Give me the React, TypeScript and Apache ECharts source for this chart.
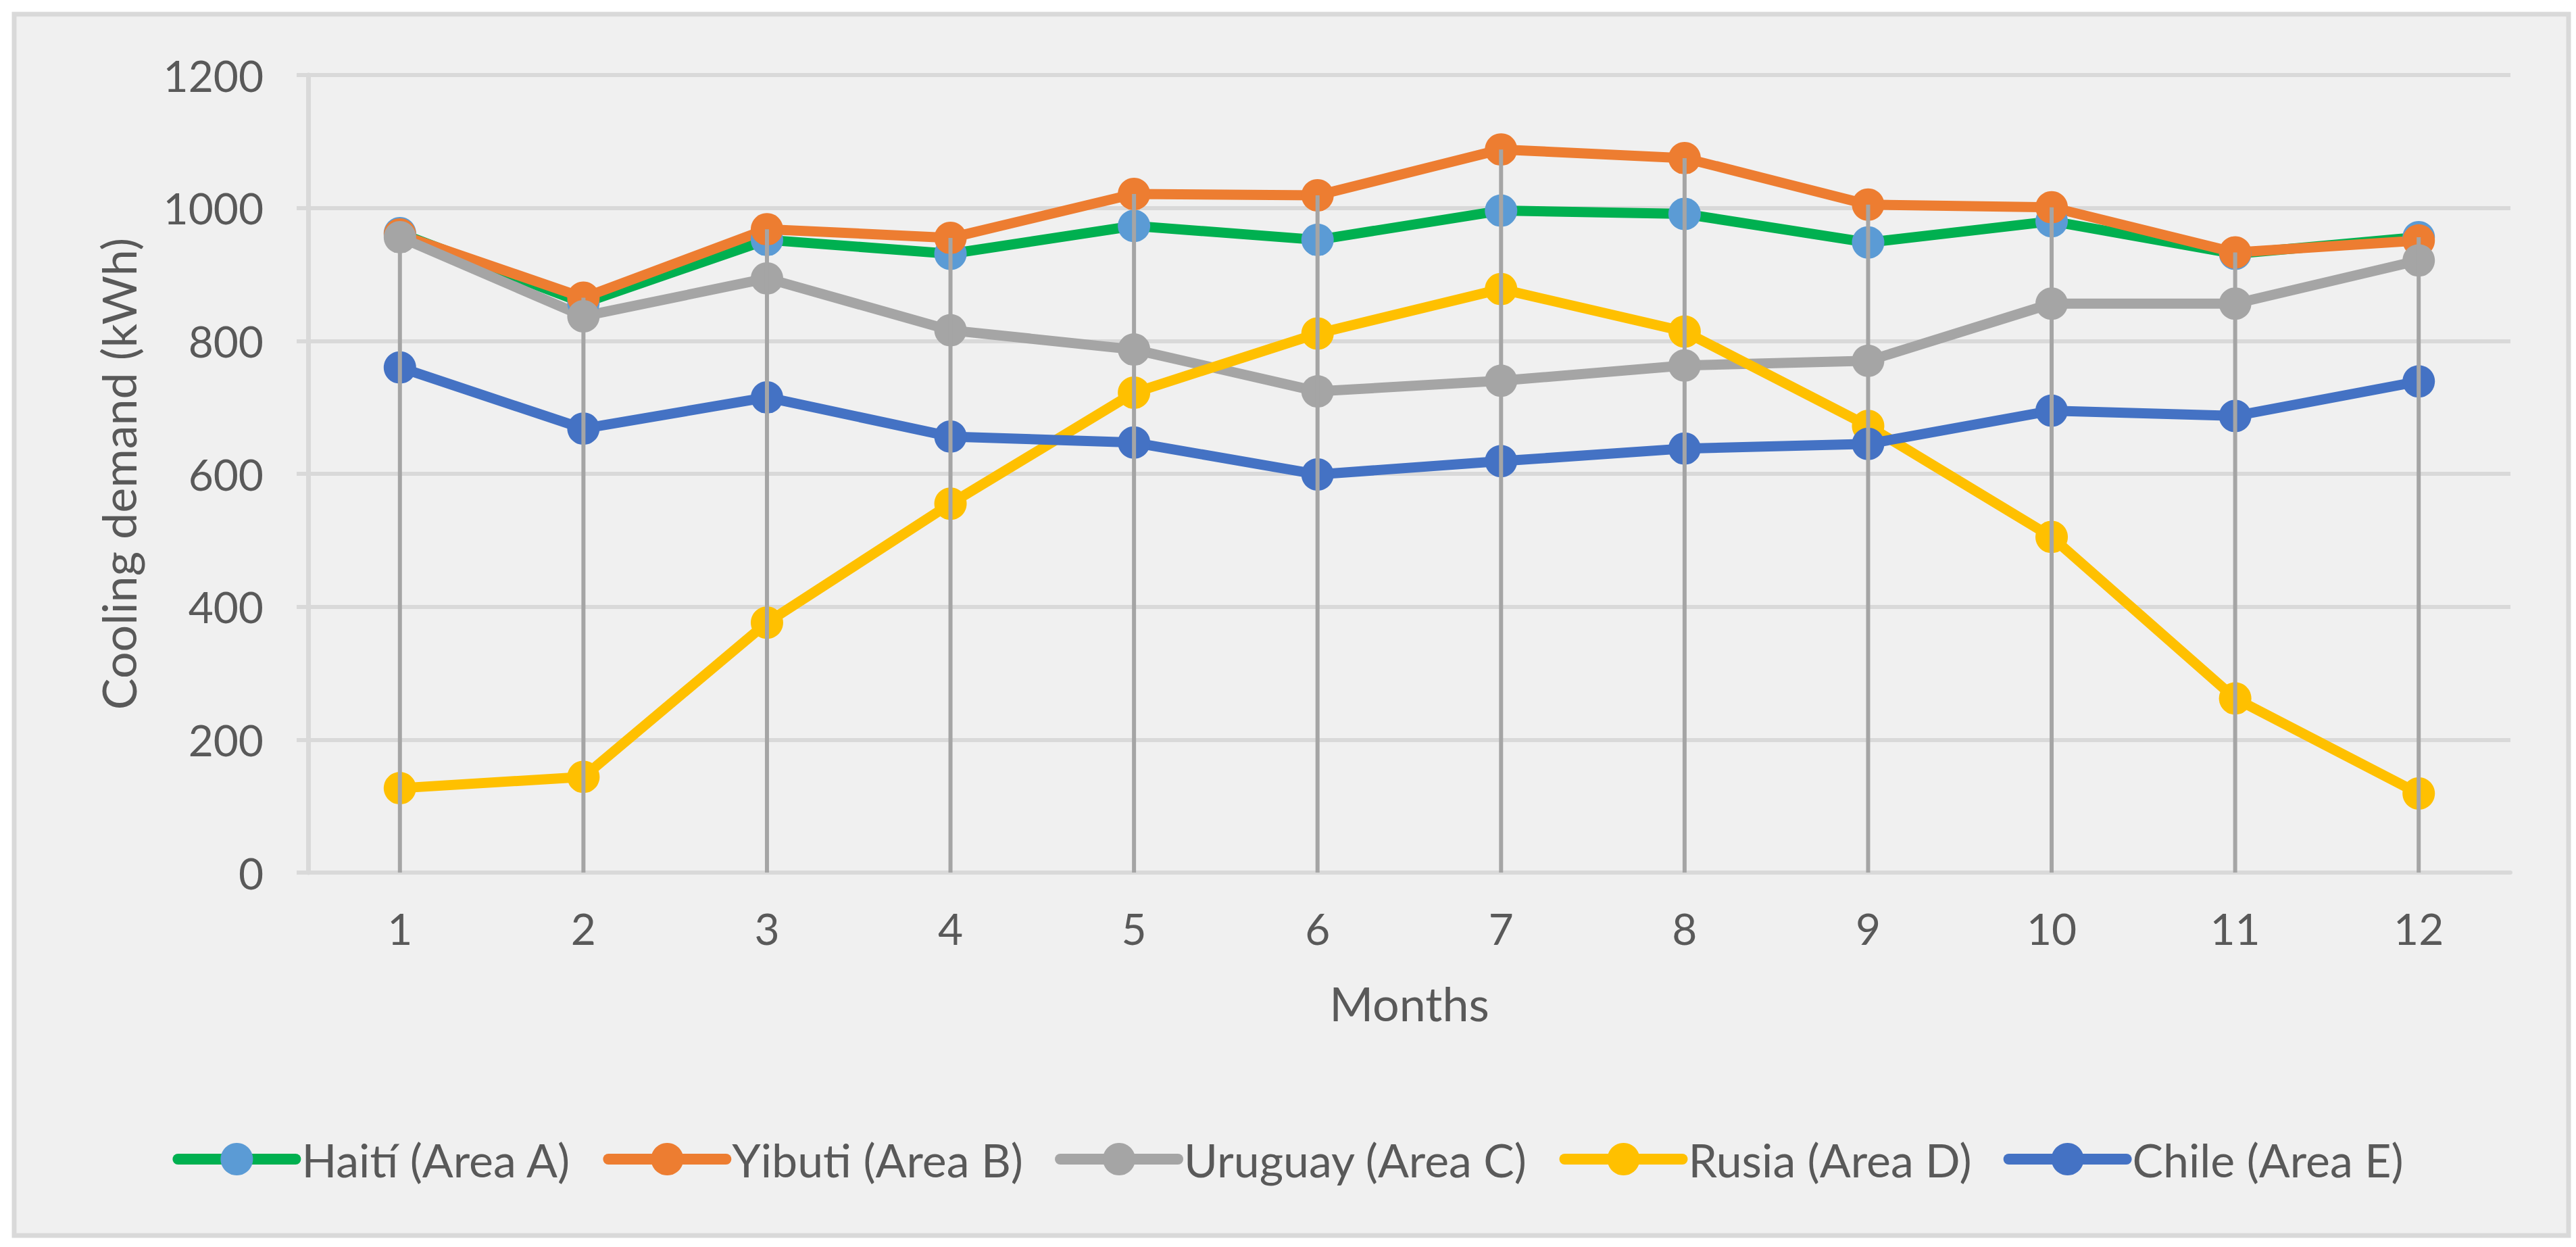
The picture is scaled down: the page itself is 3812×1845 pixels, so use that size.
import React, { useEffect, useRef } from "react";
import * as echarts from "echarts";

const months = ["1", "2", "3", "4", "5", "6", "7", "8", "9", "10", "11", "12"];
const haiti = [962, 857, 952, 931, 973, 952, 996, 991, 948, 980, 931, 956];
const yibuti = [960, 865, 968, 955, 1021, 1019, 1088, 1075, 1005, 1001, 933, 951];
const uruguay = [956, 837, 894, 816, 787, 724, 740, 763, 770, 856, 856, 921];
const rusia = [127, 144, 376, 555, 722, 811, 878, 814, 672, 505, 262, 119];
const chile = [760, 668, 715, 656, 647, 599, 619, 638, 645, 695, 687, 739];

const seriesNames = ["Haití (Area A)", "Yibuti (Area B)", "Uruguay (Area C)", "Rusia (Area D)", "Chile (Area E)"];
const lineColors = ["#00B050", "#ED7D31", "#A5A5A5", "#FFC000", "#4472C4"];
const markerColors = ["#5B9BD5", "#ED7D31", "#A5A5A5", "#FFC000", "#4472C4"];

const yMin = 0;
const yMax = 1200;
const yInterval = 200;

const FONT = "Lato, 'Noto Sans', sans-serif";
const TEXT = "#595959";

export default function App() {
  const ref = useRef<HTMLDivElement>(null);
  useEffect(() => {
    document.body.style.margin = "0";
    document.body.style.overflow = "hidden";
    const chart = echarts.init(ref.current!, undefined, { renderer: "svg" });
    const allSeries = [haiti, yibuti, uruguay, rusia, chile];
    const peaks = months.map((_, i) => [i, Math.max(...allSeries.map((s) => s[i]))]);

    const lineSeries = allSeries.map((data, k) => ({
      name: seriesNames[k],
      type: "line",
      data,
      symbol: "circle",
      symbolSize: 48,
      showSymbol: true,
      z: 2,
      lineStyle: { color: lineColors[k], width: 15, cap: "round", join: "round" },
      itemStyle: { color: markerColors[k] },
    }));

    const option = {
      animation: false,
      backgroundColor: "#ffffff",
      graphic: [
        {
          type: "rect",
          z: -10,
          silent: true,
          shape: { x: 21, y: 21, width: 3780, height: 1807 },
          style: { fill: "#F0F0F0", stroke: "#D9D9D9", lineWidth: 7 },
        },
      ],
      grid: { left: 456, right: 97, top: 111, bottom: 554, containLabel: false },
      legend: {
        data: seriesNames,
        left: "center",
        top: 1676,
        itemWidth: 174,
        itemHeight: 60,
        itemGap: 47,
        lineStyle: { width: 16 },
        textStyle: { fontSize: 68, color: TEXT, fontFamily: FONT, padding: [0, 0, 0, 4] },
      },
      xAxis: {
        type: "category",
        data: months,
        boundaryGap: true,
        name: "Months",
        nameLocation: "middle",
        nameGap: 158,
        nameTextStyle: { fontSize: 70, color: TEXT, fontFamily: FONT },
        axisLine: { show: true, lineStyle: { color: "#D9D9D9", width: 6 } },
        axisTick: { show: false },
        axisLabel: { fontSize: 64, color: TEXT, fontFamily: FONT, margin: 50 },
        splitLine: { show: false },
      },
      yAxis: {
        type: "value",
        min: yMin,
        max: yMax,
        interval: yInterval,
        name: "Cooling demand (kWh)",
        nameLocation: "middle",
        nameGap: 246,
        nameTextStyle: { fontSize: 70, color: TEXT, fontFamily: FONT },
        axisLine: { show: true, lineStyle: { color: "#D9D9D9", width: 7 } },
        axisTick: { show: true, length: 17, lineStyle: { color: "#D9D9D9", width: 6 } },
        axisLabel: {
          fontSize: 64,
          color: TEXT,
          fontFamily: FONT,
          margin: 66,
          formatter: (v: number) => String(v),
        },
        splitLine: { show: true, lineStyle: { color: "#D9D9D9", width: 6 } },
      },
      series: [
        ...lineSeries,
        {
          name: "drop",
          type: "custom",
          silent: true,
          z: 10,
          data: peaks,
          encode: { x: 0, y: 1 },
          renderItem: (params: any, api: any) => {
            const top = api.coord([api.value(0), api.value(1)]);
            const bottom = api.coord([api.value(0), 0]);
            return {
              type: "line",
              shape: { x1: top[0], y1: top[1], x2: bottom[0], y2: bottom[1] },
              style: { stroke: "#A5A5A5", lineWidth: 6 },
            };
          },
        },
      ],
    };
    chart.setOption(option as any);
    return () => chart.dispose();
  }, []);
  return <div ref={ref} style={{ width: 3812, height: 1845 }} />;
}
